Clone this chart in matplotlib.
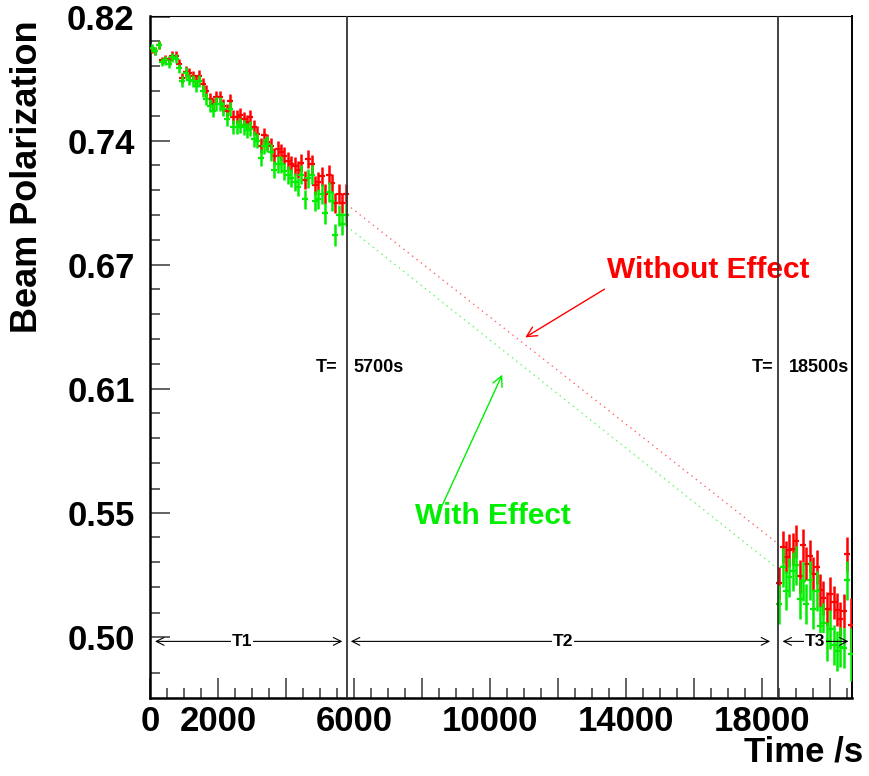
import numpy as np
import matplotlib
matplotlib.use("Agg")
import matplotlib.pyplot as plt
from matplotlib.ticker import FixedLocator, FixedFormatter, NullFormatter

plt.rcParams['font.family'] = ['Liberation Sans', 'DejaVu Sans']
plt.rcParams['font.weight'] = 'bold'

# period T1 : 0 - 5700 s, one point every 100 s
t_early = np.arange(50, 5800, 100)
p_without_early = [0.799, 0.798, 0.802, 0.792, 0.793, 0.792, 0.795, 0.795, 0.790, 0.781,
                   0.785, 0.784, 0.782, 0.779, 0.782, 0.777, 0.773, 0.768, 0.765, 0.769,
                   0.769, 0.764, 0.761, 0.767, 0.757, 0.757, 0.758, 0.756, 0.754, 0.757,
                   0.751, 0.747, 0.740, 0.746, 0.742, 0.740, 0.734, 0.738, 0.736, 0.734,
                   0.731, 0.729, 0.728, 0.726, 0.730, 0.720, 0.732, 0.729, 0.717, 0.719,
                   0.722, 0.712, 0.723, 0.718, 0.707, 0.712, 0.707, 0.712]
p_with_early = [0.800, 0.798, 0.802, 0.791, 0.792, 0.790, 0.794, 0.793, 0.787, 0.779,
                0.784, 0.780, 0.779, 0.776, 0.779, 0.773, 0.768, 0.764, 0.761, 0.765,
                0.765, 0.762, 0.756, 0.762, 0.751, 0.751, 0.752, 0.751, 0.749, 0.750,
                0.744, 0.743, 0.733, 0.740, 0.741, 0.736, 0.726, 0.729, 0.729, 0.725,
                0.723, 0.721, 0.719, 0.716, 0.723, 0.709, 0.721, 0.723, 0.708, 0.709,
                0.712, 0.701, 0.713, 0.708, 0.689, 0.700, 0.695, 0.700]
err_without_early = [0.0025, 0.0025, 0.0026, 0.0025, 0.0026, 0.0026, 0.0027, 0.0027, 0.0028, 0.0034,
                     0.0035, 0.0035, 0.0036, 0.0036, 0.0037, 0.0037, 0.0038, 0.0038, 0.0039, 0.0040,
                     0.0041, 0.0041, 0.0042, 0.0042, 0.0043, 0.0043, 0.0043, 0.0044, 0.0044, 0.0045,
                     0.0045, 0.0046, 0.0046, 0.0047, 0.0047, 0.0047, 0.0048, 0.0048, 0.0049, 0.0049,
                     0.0050, 0.0050, 0.0051, 0.0051, 0.0052, 0.0052, 0.0052, 0.0053, 0.0053, 0.0054,
                     0.0054, 0.0055, 0.0055, 0.0055, 0.0056, 0.0056, 0.0057, 0.0058]
err_with_early = [0.0026, 0.0026, 0.0027, 0.0027, 0.0027, 0.0028, 0.0028, 0.0029, 0.0029, 0.0035,
                  0.0036, 0.0036, 0.0037, 0.0037, 0.0038, 0.0039, 0.0039, 0.0040, 0.0040, 0.0041,
                  0.0042, 0.0042, 0.0043, 0.0043, 0.0044, 0.0044, 0.0045, 0.0045, 0.0046, 0.0046,
                  0.0047, 0.0047, 0.0048, 0.0048, 0.0049, 0.0049, 0.0050, 0.0050, 0.0051, 0.0051,
                  0.0052, 0.0052, 0.0053, 0.0053, 0.0054, 0.0054, 0.0055, 0.0055, 0.0056, 0.0056,
                  0.0057, 0.0057, 0.0058, 0.0058, 0.0059, 0.0059, 0.0060, 0.0061]

# period T3 : 18500 s onwards
t_late = np.arange(18500, 20700, 100)
p_without_late = [0.5221, 0.5373, 0.5330, 0.5359, 0.5365, 0.5397, 0.5249, 0.5380, 0.5301, 0.5333,
                  0.5259, 0.5288, 0.5190, 0.5159, 0.5114, 0.5175, 0.5141, 0.5111, 0.5073, 0.5104,
                  0.5343, 0.5050]
p_with_late = [0.5134, 0.5287, 0.5189, 0.5245, 0.5270, 0.5295, 0.5155, 0.5228, 0.5134, 0.5233,
               0.5114, 0.5189, 0.5046, 0.5057, 0.4983, 0.5031, 0.4970, 0.4946, 0.4960, 0.4957,
               0.5231, 0.4933]
err_without_late = [0.0068, 0.0070, 0.0069, 0.0070, 0.0070, 0.0071, 0.0069, 0.0071, 0.0070, 0.0070,
                    0.0070, 0.0070, 0.0069, 0.0069, 0.0068, 0.0069, 0.0069, 0.0068, 0.0068, 0.0069,
                    0.0072, 0.0110]
err_with_late = [0.0080, 0.0082, 0.0081, 0.0082, 0.0082, 0.0083, 0.0081, 0.0082, 0.0082, 0.0082,
                 0.0081, 0.0082, 0.0080, 0.0080, 0.0079, 0.0080, 0.0079, 0.0079, 0.0079, 0.0079,
                 0.0082, 0.0105]

# extrapolated decay between the two measuring periods
t_gap = [5780, 18460]
fit_without = [0.7062, 0.5387]
fit_with = [0.6940, 0.5280]

y_major = [0.50, 0.5520, 0.6093, 0.6726, 0.7425, 0.82]
y_labels = ["0.50", "0.55", "0.61", "0.67", "0.74", "0.82"]
x_major = [0, 2000, 4000, 6000, 8000, 10000, 12000, 14000, 16000, 18000, 20000]
x_labels = ["0", "2000", "", "6000", "", "10000", "", "14000", "", "18000", ""]

RED = "#ff0000"
GREEN = "#00ee00"

fig = plt.figure(figsize=(8.7, 7.76), dpi=100)
ax = fig.add_axes([150 / 870, 1 - 698 / 776, 702 / 870, 682 / 776])
ax.set_yscale("log")

for t, p, e in [(t_early, p_without_early, err_without_early),
                (t_late, p_without_late, err_without_late)]:
    ax.errorbar(t, p, yerr=e, fmt="_", color=RED, ms=5, mew=1.6,
                elinewidth=1.8, capsize=0, zorder=3)
for t, p, e in [(t_early, p_with_early, err_with_early),
                (t_late, p_with_late, err_with_late)]:
    ax.errorbar(t, p, yerr=e, fmt="_", color=GREEN, ms=5, mew=1.6,
                elinewidth=1.8, capsize=0, zorder=4)

ax.plot(t_gap, fit_without, color=RED, lw=1, ls=(0, (1, 3)), alpha=0.6)
ax.plot(t_gap, fit_with, color=GREEN, lw=1, ls=(0, (1, 3)), alpha=0.6)

# period boundaries
for tb in t_gap:
    ax.axvline(tb, color="#333333", lw=1.3, zorder=6)

ax.text(5510, 0.620, "T=", ha="right", va="center", fontsize=13)
ax.text(5971, 0.620, "5700s", ha="left", va="center", fontsize=13)
ax.text(18315, 0.620, "T=", ha="right", va="center", fontsize=13)
ax.text(18774, 0.620, "18500s", ha="left", va="center", fontsize=13)

# labels with arrows
ax.annotate("", xy=(10962, 0.6343), xytext=(13432, 0.6607),
            arrowprops=dict(arrowstyle="->", color=RED, lw=1, mutation_scale=18))
ax.text(13441, 0.6699, "Without Effect", color=RED, fontsize=21.5,
        ha="left", va="center", zorder=5)
ax.annotate("", xy=(10391, 0.6177), xytext=(8579, 0.5550),
            arrowprops=dict(arrowstyle="->", color=GREEN, lw=1, mutation_scale=18))
ax.text(7794, 0.5505, "With Effect", color=GREEN, fontsize=21.5,
        ha="left", va="center")

# period spans
y_span = 0.4983
for x0, x1, xm, name in [(147, 5656, 2696, "T1"), (5903, 18235, 12138, "T2"),
                         (18597, 20538, 19559, "T3")]:
    ax.annotate("", xy=(x0, y_span), xytext=(x1, y_span),
                arrowprops=dict(arrowstyle="<->", color="black", lw=0.8,
                                mutation_scale=14, shrinkA=0, shrinkB=0), zorder=7)
    ax.text(xm, y_span, name, fontsize=12.5, ha="center", va="center", zorder=8,
            bbox=dict(facecolor="white", edgecolor="none", pad=0.5))

ax.set_xlim(0, 20640)
ax.set_ylim(0.4763, 0.8206)

ax.xaxis.set_major_locator(FixedLocator(x_major))
ax.xaxis.set_major_formatter(FixedFormatter(x_labels))
ax.xaxis.set_minor_locator(FixedLocator(np.arange(500, 20640, 500)))
ax.yaxis.set_major_locator(FixedLocator(y_major))
ax.yaxis.set_major_formatter(FixedFormatter(y_labels))
ax.yaxis.set_minor_locator(FixedLocator([0.4859, 0.5099, 0.5202, 0.5307, 0.5414,
                                         0.5629, 0.5743, 0.5859, 0.5977,
                                         0.6216, 0.6341, 0.6469, 0.6600,
                                         0.6862, 0.7000, 0.7142, 0.7286,
                                         0.7575, 0.7728, 0.7884, 0.8043]))
ax.yaxis.set_minor_formatter(NullFormatter())

ax.tick_params(which="both", direction="in", top=False, right=False,
               color="#555555", width=1.3, labelsize=25)
ax.tick_params(which="major", length=14.5)
ax.tick_params(which="minor", length=7.5)
ax.tick_params(axis="y", pad=11)
ax.tick_params(axis="x", pad=5)

for side in ["left", "bottom"]:
    ax.spines[side].set_linewidth(1.8)
ax.spines["top"].set_linewidth(0.8)
ax.spines["right"].set_linewidth(1.4)

fig.text(28 / 870, 1 - 20 / 776, "Beam Polarization", rotation=90,
         ha="center", va="top", fontsize=26)
fig.text(863 / 870, 1 - 752 / 776, "Time /s", ha="right", va="center", fontsize=25)

fig.savefig("out.png", dpi=100)
